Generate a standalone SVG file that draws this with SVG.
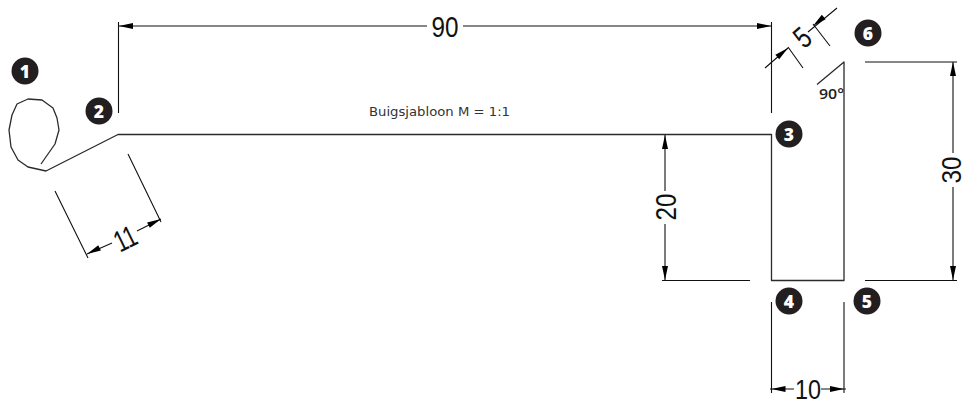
<svg xmlns="http://www.w3.org/2000/svg" width="962" height="401" viewBox="0 0 962 401">
<style>
.g{fill:none;stroke:#2b2b2b;stroke-width:1.3;stroke-linejoin:round}
.d{fill:none;stroke:#111;stroke-width:1.1}
.a{fill:#000;stroke:none}
.n{font-family:"Liberation Sans",Arial,sans-serif;font-size:30px;fill:#111;text-anchor:middle}
.b circle{fill:#231f20}
.b text{font-family:"Open Sans","Noto Sans",sans-serif;font-weight:800;font-size:17.500px;fill:#fff;text-anchor:middle}
</style>
<defs>
<path id="ah" class="a" d="M0 0L-14 -3L-14 3Z"/>
</defs>
<rect width="962" height="401" fill="#fff"/>
<g id="profile">
<path class="g" d="M41 164L55 144L59 130L57 118L53 108L42 100L28 99L17 104L12 115L9 130L11 147L18 160L28 167L46 171L118 134.500H771.500V280.500H844V62L817 84.500"/>
</g>
<g id="connectors">
<path class="d" d="M118.500 22V113M771.500 22V113M119 26H427M463 26H771"/>
<path class="d" d="M55 191L88 258M128 154L161 222M87 254L112 243M137 231L161 219"/>
<path class="d" d="M765 68L788 48M788 47L803 68M808 32L837 8M813 24L830 46"/>
<path class="d" d="M865 62H957M865 280.500H957M953 62V153M953 187V280"/>
<path class="d" d="M662 280.500H750M665 135V191M665 224V280"/>
<path class="d" d="M771.500 302V393M844 302V393M770 389H794M821 389H846"/>
<use href="#ah" transform="translate(119 26) rotate(180)"/>
<use href="#ah" transform="translate(771 26)"/>
<use href="#ah" transform="translate(87 254) rotate(154)"/>
<use href="#ah" transform="translate(161 219) rotate(-26)"/>
<use href="#ah" transform="translate(788 48) rotate(-40)"/>
<use href="#ah" transform="translate(813 26) rotate(140)"/>
<use href="#ah" transform="translate(953 62) rotate(-90)"/>
<use href="#ah" transform="translate(953 280) rotate(90)"/>
<use href="#ah" transform="translate(665 135) rotate(-90)"/>
<use href="#ah" transform="translate(665 280) rotate(90)"/>
<use href="#ah" transform="translate(771.500 389) rotate(180)"/>
<use href="#ah" transform="translate(844 389)"/>
</g>
<g id="dimensions">
<text class="n" x="445" y="37" textLength="27" lengthAdjust="spacingAndGlyphs">90</text>
<text class="n" transform="translate(125 238) rotate(-26) translate(0 11)" textLength="22" lengthAdjust="spacingAndGlyphs" x="0" y="0">11</text>
<text class="n" transform="translate(802 37) rotate(-40) translate(0 11)" textLength="13" lengthAdjust="spacingAndGlyphs" x="0" y="0">5</text>
<text class="n" transform="translate(961 170) rotate(-90)" font-size="27" style="font-size:27px" textLength="27" lengthAdjust="spacingAndGlyphs" x="0" y="0">30</text>
<text class="n" transform="translate(676 207) rotate(-90)" textLength="27" lengthAdjust="spacingAndGlyphs" x="0" y="0">20</text>
<text class="n" x="808" y="399" style="font-size:28px" textLength="26" lengthAdjust="spacingAndGlyphs">10</text>
</g>
<g id="title"><text x="369" y="116" font-family="'DejaVu Sans',sans-serif" font-size="13" fill="#333" textLength="141" lengthAdjust="spacingAndGlyphs">Buigsjabloon M = 1:1</text></g>
<g id="angle"><text x="819" y="99" font-family="'Open Sans','Noto Sans',sans-serif" font-size="14" font-weight="600" fill="#222" textLength="25" lengthAdjust="spacingAndGlyphs">90°</text></g>
<g id="node1" class="b"><circle cx="25" cy="71" r="13.500"/><text x="25" y="77.500">1</text></g>
<g id="node2" class="b"><circle cx="99" cy="111" r="13.500"/><text x="99" y="117.500">2</text></g>
<g id="node3" class="b"><circle cx="789" cy="134" r="13.500"/><text x="789" y="140.500">3</text></g>
<g id="node4" class="b"><circle cx="789" cy="301" r="13.500"/><text x="789" y="307.500">4</text></g>
<g id="node5" class="b"><circle cx="867" cy="301" r="13.500"/><text x="867" y="307.500">5</text></g>
<g id="node6" class="b"><circle cx="868" cy="33" r="13.500"/><text x="868" y="39.500">6</text></g>
</svg>
